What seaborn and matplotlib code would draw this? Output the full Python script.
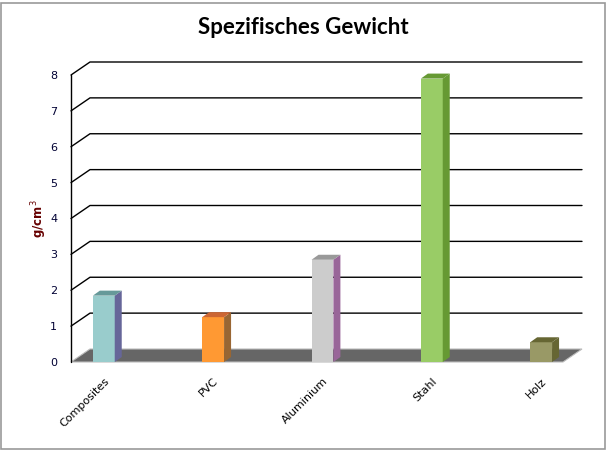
import matplotlib
matplotlib.use("Agg")
import matplotlib.pyplot as plt
from matplotlib.patches import Polygon, Rectangle
from matplotlib.lines import Line2D
from matplotlib.transforms import IdentityTransform
import seaborn as sns
import pandas as pd

# data
materials = ["Composites", "PVC", "Aluminium", "Stahl", "Holz"]
density = [1.85, 1.25, 2.85, 7.9, 0.55]
yticks = [0, 1, 2, 3, 4, 5, 6, 7, 8]

front_colors = ["#99CCCC", "#FF9933", "#CCCCCC", "#99CC66", "#999966"]
side_colors = ["#666699", "#996633", "#996699", "#669933", "#666633"]
top_colors = ["#669999", "#CC6633", "#999999", "#669933", "#666633"]

df = pd.DataFrame({"material": materials, "density": density})

sns.set_style("white")
plt.rcParams["font.family"] = ["DejaVu Sans"]

fig = plt.figure(figsize=(6.07, 4.51), dpi=100)
W, H = 607, 451
ax = fig.add_axes([71 / W, (H - 362) / H, (563 - 71) / W, (362 - 75) / H])

sns.barplot(data=df, x="material", y="density", hue="material",
            palette=front_colors, saturation=1, width=0.2, legend=False,
            ax=ax, edgecolor="none", zorder=5)
ax.set_xlim(-0.3, 4.2)
ax.set_ylim(0, 8)
for s in ax.spines.values():
    s.set_visible(False)
ax.set_yticks(yticks)
ax.set_yticklabels([str(t) for t in yticks], fontsize=8, color="#000033")
ax.tick_params(axis="y", length=0, pad=10)
ax.tick_params(axis="x", length=0, pad=10)
ax.set_xticks(range(len(materials)))
ax.set_xticklabels(materials, rotation=45, ha="right", rotation_mode="anchor",
                   fontsize=8, color="#000000")
ax.set_xlabel("")
ax.set_ylabel("g/cm$^3$", fontsize=8.5, fontweight="bold", color="#660000",
              labelpad=1)

fig.canvas.draw()
ident = IdentityTransform()
dx, dy = 19, 13  # depth offset of the back wall in pixels


def P(x, y, d=0.0):
    px, py = ax.transData.transform((x, y))
    return (px + d * dx, py + d * dy)


x0, x1 = ax.get_xlim()

# floor
ax.add_patch(Polygon([P(x0, 0), P(x1, 0), P(x1, 0, 1), P(x0, 0, 1)],
                     closed=True, facecolor="#666666", edgecolor="#BBBBBB",
                     linewidth=0.8, transform=ident, zorder=1, clip_on=False))

# gridlines: diagonal from front axis + horizontal along back wall
for t in yticks[1:]:
    a, b, c = P(x0, t), P(x0, t, 1), P(x1, t, 1)
    ax.add_line(Line2D([a[0], b[0], c[0]], [a[1], b[1], c[1]],
                       color="black", linewidth=1.0, transform=ident,
                       zorder=2, clip_on=False))
# front vertical axis
a, b = P(x0, 0), P(x0, 8)
ax.add_line(Line2D([a[0], b[0]], [a[1], b[1]], color="black", linewidth=1.0,
                   transform=ident, zorder=2, clip_on=False))

# 3d side and top faces of each bar
bdx, bdy = 7, 5
for i, patch in enumerate(list(ax.patches)[:len(materials)]):
    bx, by = patch.get_x(), patch.get_y()
    bw, bh = patch.get_width(), patch.get_height()
    fr = ax.transData.transform((bx + bw, by))
    tr = ax.transData.transform((bx + bw, by + bh))
    tl = ax.transData.transform((bx, by + bh))
    ax.add_patch(Polygon([fr, tr, (tr[0] + bdx, tr[1] + bdy), (fr[0] + bdx, fr[1] + bdy)],
                         closed=True, facecolor=side_colors[i], edgecolor="none",
                         transform=ident, zorder=6, clip_on=False))
    ax.add_patch(Polygon([tl, tr, (tr[0] + bdx, tr[1] + bdy), (tl[0] + bdx, tl[1] + bdy)],
                         closed=True, facecolor=top_colors[i], edgecolor="none",
                         transform=ident, zorder=6, clip_on=False))

fig.text(0.5, 1 - 27 / H, "Spezifisches Gewicht", ha="center", va="center",
         fontsize=16, fontweight="bold", color="black",
         family=["Lato", "DejaVu Sans"])

fig.add_artist(Rectangle((1.5 / W, 2.5 / H), 603 / W, 446 / H,
                         transform=fig.transFigure, fill=False,
                         edgecolor="#999999", linewidth=1.2))

fig.savefig("out.png", dpi=100)
